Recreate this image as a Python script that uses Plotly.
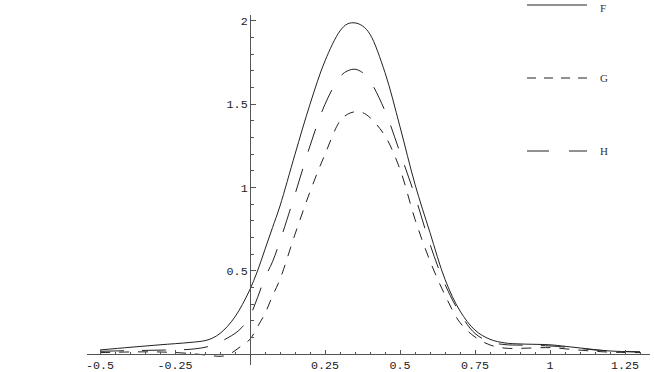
import plotly.graph_objects as go

x = [-0.5, -0.4, -0.3, -0.2, -0.15, -0.125, -0.1, -0.075, -0.05, -0.025, 0.0, 0.025, 0.05, 0.075,
     0.1, 0.15, 0.2, 0.25, 0.3, 0.325, 0.35, 0.375, 0.4, 0.45, 0.5, 0.55, 0.6, 0.65, 0.7, 0.75, 0.8,
     0.85, 0.9, 1.0, 1.05, 1.1, 1.15, 1.2, 1.3]

F = [0.026, 0.042, 0.057, 0.071, 0.082, 0.097, 0.125, 0.168, 0.225, 0.30, 0.39, 0.50, 0.63, 0.76,
     0.89, 1.20, 1.50, 1.76, 1.94, 1.982, 1.988, 1.97, 1.92, 1.69, 1.365, 1.02, 0.73, 0.45, 0.26, 0.145, 0.09,
     0.068, 0.062, 0.057, 0.048, 0.038, 0.028, 0.02, 0.013]

G = [0.01, 0.014, 0.014, 0.005, -0.004, -0.009, -0.012, -0.005, 0.022, 0.055, 0.09, 0.165, 0.245, 0.35,
     0.45, 0.72, 0.975, 1.20, 1.40, 1.44, 1.455, 1.45, 1.42, 1.31, 1.11, 0.81, 0.56, 0.355, 0.19, 0.104, 0.056,
     0.037, 0.036, 0.04, 0.033, 0.025, 0.018, 0.013, 0.01]

H = [0.018, 0.022, 0.025, 0.03, 0.042, 0.055, 0.074, 0.098, 0.125, 0.165, 0.23, 0.34, 0.46, 0.555,
     0.68, 0.96, 1.25, 1.50, 1.665, 1.70, 1.71, 1.69, 1.64, 1.46, 1.21, 0.95, 0.66, 0.42, 0.246, 0.125, 0.075,
     0.058, 0.055, 0.05, 0.043, 0.035, 0.026, 0.02, 0.015]

x_tickvals = [-0.5, -0.25, 0.25, 0.5, 0.75, 1, 1.25]
x_ticktext = ["-0.5", "-0.25", "0.25", "0.5", "0.75", "1", "1.25"]
y_tickvals = [0.5, 1, 1.5, 2]
y_ticktext = ["0.5", "1", "1.5", "2"]

names = ["F", "G", "H"]
series = [F, G, H]
dashes = ["solid", "10px,9px", "24px,18px"]
legend_dashes = ["solid", "9px,8px", "22px,20px"]

W, Hh = 654, 372
x0px, ypx0 = 250.0, 354.3
sx, sy = 300.0, 166.7
ax_left, ax_right = 87.0, 650.0
ax_top, ax_bottom = 15.0, 365.0

line_col = "#222222"
axis_col = "#555555"
font_mono = "Liberation Mono, Courier New, monospace"

fig = go.Figure()
for n, s, d in zip(names, series, dashes):
    fig.add_trace(go.Scatter(x=x, y=s, mode="lines", name=n,
                             line=dict(color=line_col, width=1, dash=d, shape="spline", smoothing=1.0),
                             showlegend=False, hoverinfo="skip"))

fig.update_layout(
    width=W, height=Hh,
    margin=dict(l=0, r=0, t=0, b=0),
    paper_bgcolor="white", plot_bgcolor="white",
    xaxis=dict(
        domain=[ax_left / W, ax_right / W],
        range=[(ax_left - x0px) / sx, (ax_right - x0px) / sx],
        anchor="free", position=(Hh - ypx0) / Hh,
        showgrid=False, zeroline=False,
        showline=True, linecolor=axis_col, linewidth=1,
        tickmode="array", tickvals=x_tickvals, ticktext=x_ticktext,
        ticks="inside", ticklen=4, tickcolor=axis_col, tickwidth=1,
        minor=dict(dtick=0.05, tick0=0, ticks="inside", ticklen=2, tickcolor=axis_col),
        tickfont=dict(family=font_mono, size=11.7, color="#222"),
        automargin=False,
    ),
    yaxis=dict(
        domain=[(Hh - ax_bottom) / Hh, (Hh - ax_top) / Hh],
        range=[(ypx0 - ax_bottom) / sy, (ypx0 - ax_top) / sy],
        anchor="free", position=x0px / W,
        showgrid=False, zeroline=False,
        showline=True, linecolor=axis_col, linewidth=1,
        tickmode="array", tickvals=y_tickvals, ticktext=y_ticktext,
        ticks="inside", ticklen=5, tickcolor=axis_col, tickwidth=1,
        minor=dict(dtick=0.1, tick0=0, ticks="inside", ticklen=3, tickcolor=axis_col),
        tickfont=dict(family=font_mono, size=11.7, color="#222"),
        automargin=False,
    ),
)

# legend drawn manually
leg_y = [5, 78, 151]
for i, (n, d, yy) in enumerate(zip(names, legend_dashes, leg_y)):
    fig.add_shape(type="line", xref="paper", yref="paper",
                  x0=527 / W, x1=587 / W, y0=(Hh - yy) / Hh, y1=(Hh - yy) / Hh,
                  line=dict(color=line_col, width=1, dash=d))
    if i == 0:
        fig.add_annotation(xref="paper", yref="paper", x=598 / W, y=1.0,
                           text=n, showarrow=False, xanchor="left", yanchor="top",
                           font=dict(family="Liberation Serif, Times New Roman, serif", size=11, color="#333"))
    else:
        fig.add_annotation(xref="paper", yref="paper", x=598 / W, y=(Hh - yy) / Hh,
                           text=n, showarrow=False, xanchor="left", yanchor="middle",
                           font=dict(family="Liberation Serif, Times New Roman, serif", size=11, color="#333"))

fig.write_html("out.html", config={"displayModeBar": False, "staticPlot": True},
               post_script="document.body.style.margin='0';document.body.style.overflow='hidden';")
